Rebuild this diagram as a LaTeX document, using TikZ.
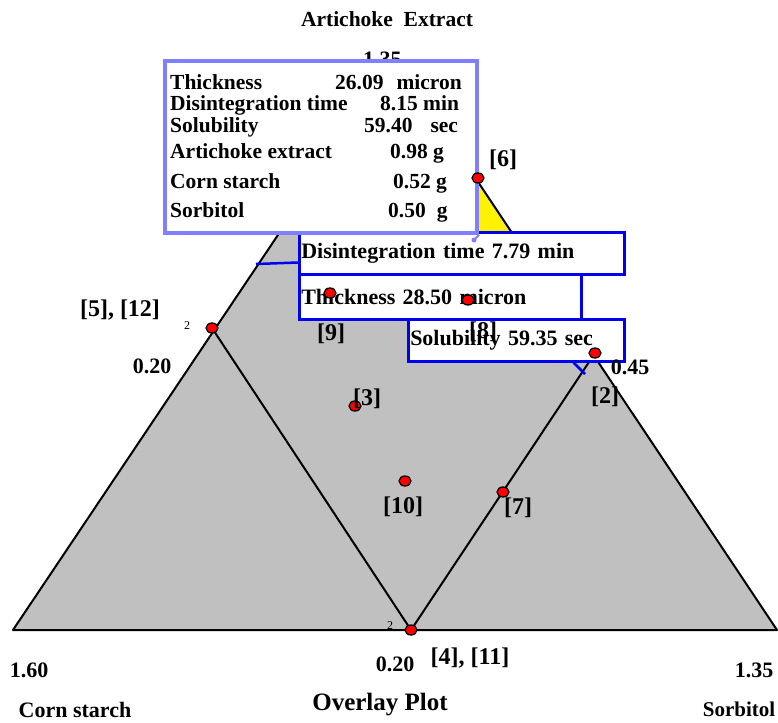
\documentclass[tikz,border=0pt]{standalone}
\usepackage{fontspec}
\setmainfont{Liberation Serif}
\usetikzlibrary{shapes.geometric,calc}
\definecolor{plotgray}{RGB}{192,192,192}
\definecolor{boxblue}{RGB}{0,0,240}
\definecolor{lavender}{RGB}{128,128,255}

\begin{document}
\begin{tikzpicture}[x=1pt,y=-1pt,
  edge/.style={draw=black,line width=2pt,line join=round},
  dot/.style={ellipse,draw=black,fill=red,line width=1.3pt,minimum width=12pt,minimum height=10pt,inner sep=0pt},
  lab/.style={font=\fontsize{24}{24}\selectfont\bfseries,inner sep=0pt},
  axlab/.style={font=\fontsize{22}{22}\selectfont\bfseries,inner sep=0pt},
  small/.style={font=\fontsize{12}{12}\selectfont,inner sep=0pt},
  callbox/.style={draw=boxblue,line width=2.5pt,fill=white,anchor=north west,align=left,inner xsep=2pt,inner ysep=0pt,font=\fontsize{22}{22}\selectfont\bfseries},
  pointer/.style={draw=boxblue,line width=2.5pt},
  rowtxt/.style={anchor=base west,inner sep=0pt,font=\fontsize{21.5}{21.5}\selectfont\bfseries}]
\useasboundingbox (0,0) rectangle (778,722);
% simplex and overlay region
\coordinate (apex) at (396,59);
\coordinate (cs) at (13,630);
\coordinate (sb) at (777,630);
\fill[plotgray] (apex) -- (cs) -- (sb) -- cycle;
\fill[yellow] (apex) -- ($(apex)!0.3047!(cs)$) -- ($(apex)!0.3047!(sb)$) -- cycle;
\draw[edge] (apex) -- (cs) -- (sb) -- cycle;
% constraint lines
\coordinate (c5) at (212,328);
\coordinate (c4) at (411,630);
\coordinate (c2) at (595,353);
\draw[edge] (c5) -- (c4) -- (c2);
\node[axlab,anchor=base west] (top135) at (363,67) {1.35};
% contour callouts
\node[callbox,minimum width=282pt,minimum height=45pt,text width=278pt] (thkbox) at (298,273) {Thickness 28.50 micron};
\node[callbox,minimum width=325pt,minimum height=42pt,text width=321pt] (disbox) at (298,231) {Disintegration time 7.79 min};
\node[callbox,minimum width=216pt,minimum height=42pt,text width=212pt] (solbox) at (407,318) {Solubility 59.35 sec};
\coordinate (disend) at (256,264);
\coordinate (solend) at (585,374);
\draw[pointer] ([yshift=13pt]disbox.south west) -- (disend);
\draw[pointer] ([xshift=-52pt]solbox.south east) -- (solend);
% optimum box
\node[draw=lavender,line width=4pt,fill=white,minimum width=312pt,minimum height=172pt,anchor=north west,inner sep=0pt] (infobox) at (163,59) {};
\coordinate (infotip) at (474,240);
\draw[lavender,line width=2pt] (infobox.south east) -- (infotip);
\fill[lavender] (infotip) circle (2.5pt);
\node[rowtxt] (r1) at (170,90) {Thickness};
\node[rowtxt] (v1) at (335,90) {26.09\hspace{13pt}micron};
\node[rowtxt] (r2) at (170,111) {Disintegration time};
\node[rowtxt] (v2) at (380,111) {8.15 min};
\node[rowtxt] (r3) at (170,133) {Solubility};
\node[rowtxt] (v3) at (364,133) {59.40\hspace{18pt}sec};
\node[rowtxt] (r4) at (170,159) {Artichoke extract};
\node[rowtxt] (v4) at (390,159) {0.98 g};
\node[rowtxt] (r5) at (170,189) {Corn starch};
\node[rowtxt] (v5) at (393,189) {0.52 g};
\node[rowtxt] (r6) at (170,217) {Sorbitol};
\node[rowtxt] (v6) at (388,217) {0.50\hspace{11pt}g};
% design points
\node[dot] (p6) at (478,178) {};
\node[dot] (p5) at (c5) {};
\node[dot] (p9) at (330,293) {};
\node[dot] (p8) at (468,300) {};
\node[dot] (p2) at (c2) {};
\node[dot] (p3) at (355,406) {};
\node[dot] (p10) at (405,481) {};
\node[dot] (p7) at (503,492) {};
\node[dot] (p4) at (c4) {};
\node[lab] (l6) at (503,160) {[6]};
\node[lab] (l5) at (120,310) {[5], [12]};
\node[small] (n5) at (187,326) {2};
\node[lab] (l9) at (331,334) {[9]};
\node[lab] (l8) at (483,332) {[8]};
\node[lab] (l2) at (605,397) {[2]};
\node[lab] (l3) at (367,399) {[3]};
\node[lab] (l10) at (403,507) {[10]};
\node[lab] (l7) at (518,508) {[7]};
\node[lab] (l4) at (470,658) {[4], [11]};
\node[small] (n4) at (390,626) {2};
% axis labels
\node[axlab,font=\fontsize{21.5}{21.5}\selectfont\bfseries] (title) at (387,19) {Artichoke\ \ Extract};
\node[axlab] (a020l) at (152,366) {0.20};
\node[axlab] (a045) at (630,367) {0.45};
\node[axlab] (a020b) at (395,664) {0.20};
\node[axlab] (a160) at (29,670) {1.60};
\node[axlab] (a135) at (754,670) {1.35};
\node[axlab] (ncs) at (75,710) {Corn starch};
\node[axlab,font=\fontsize{25}{25}\selectfont\bfseries] (plot) at (380,705) {Overlay Plot};
\node[axlab,font=\fontsize{21}{21}\selectfont\bfseries] (nsb) at (739,709) {Sorbitol};
\end{tikzpicture}
\end{document}
